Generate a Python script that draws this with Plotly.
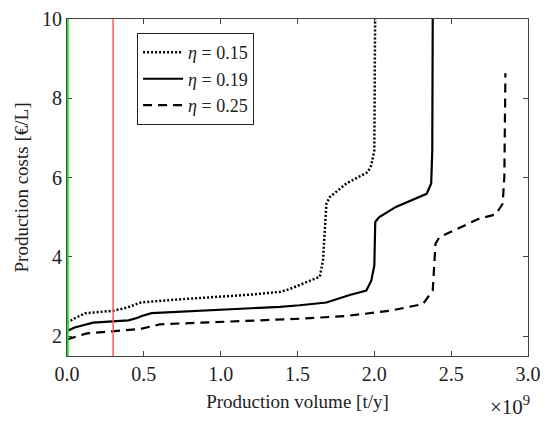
import plotly.graph_objects as go

# production volume in 1e9 t/y, production costs in EUR/L
volume_015 = [0.0, 0.05, 0.12, 0.30, 0.39, 0.48, 0.70, 1.00, 1.20, 1.39, 1.45, 1.52,
              1.645, 1.666, 1.688, 1.71, 1.818, 1.958, 1.98, 2.0, 2.005]
cost_015 = [2.34, 2.45, 2.58, 2.64, 2.72, 2.85, 2.92, 3.00, 3.05, 3.12, 3.19, 3.30,
            3.50, 3.91, 5.34, 5.51, 5.85, 6.14, 6.31, 6.69, 10.0]

volume_019 = [0.0, 0.05, 0.17, 0.29, 0.40, 0.455, 0.487, 0.55, 1.00, 1.385, 1.515,
              1.688, 1.84, 1.948, 1.98, 2.0, 2.006, 2.03, 2.14, 2.34, 2.37, 2.377, 2.38]
cost_019 = [2.13, 2.22, 2.34, 2.37, 2.40, 2.46, 2.51, 2.58, 2.66, 2.74, 2.78,
            2.85, 3.04, 3.15, 3.40, 3.78, 4.88, 5.00, 5.26, 5.59, 5.85, 6.69, 10.0]

volume_025 = [0.0, 0.13, 0.29, 0.476, 0.606, 1.00, 1.385, 1.515, 1.818, 2.10, 2.316,
              2.38, 2.398, 2.424, 2.68, 2.79, 2.835, 2.846, 2.853]
cost_025 = [1.92, 2.07, 2.12, 2.18, 2.30, 2.36, 2.42, 2.44, 2.51, 2.64, 2.81,
            3.15, 4.33, 4.50, 4.96, 5.07, 5.34, 6.02, 8.63]

x_ticks = [0.0, 0.5, 1.0, 1.5, 2.0, 2.5, 3.0]
y_ticks = [2, 4, 6, 8, 10]
green_x = 0.0
red_x = 0.3

font = "Liberation Serif"

fig = go.Figure()
fig.add_trace(go.Scatter(x=volume_015, y=cost_015, mode="lines", name="<i>η</i> = 0.15",
                         line=dict(color="black", width=2.5, dash="2px,2px")))
fig.add_trace(go.Scatter(x=volume_019, y=cost_019, mode="lines", name="<i>η</i> = 0.19",
                         line=dict(color="black", width=2.2)))
fig.add_trace(go.Scatter(x=volume_025, y=cost_025, mode="lines", name="<i>η</i> = 0.25",
                         line=dict(color="black", width=2.2, dash="9px,6px")))

# green line sits on the left axis, drawn wide so the visible half shows over it
fig.add_vline(x=green_x, line=dict(color="#22dd22", width=3.5), layer="above")
fig.add_vline(x=red_x, line=dict(color="#ff5a5a", width=1.5), layer="above")

axis_common = dict(showgrid=False, zeroline=False, showline=True, linecolor="#444",
                   linewidth=1, mirror="ticks", ticks="inside", ticklen=5,
                   tickcolor="#444", automargin=False,
                   tickfont=dict(family=font, size=20, color="#222"))

fig.update_xaxes(range=[0, 3.0], tickvals=x_ticks, tickformat=".1f",
                 title=dict(text="Production volume [t/y]",
                            font=dict(family=font, size=19, color="#222"), standoff=10),
                 **axis_common)
fig.update_yaxes(range=[1.5, 10], tickvals=y_ticks,
                 title=dict(text="Production costs [€/L]",
                            font=dict(family=font, size=19, color="#222"), standoff=8),
                 **axis_common)

fig.add_annotation(text="×10<sup>9</sup>", xref="paper", yref="paper", x=1.008, y=-0.148,
                   xanchor="right", yanchor="middle", showarrow=False,
                   font=dict(family=font, size=21, color="#222"))

# the page body adds an 8px offset, so the figure is 8px smaller each way
fig.update_layout(
    width=542, height=418,
    margin=dict(l=59, r=22, t=11, b=70),
    plot_bgcolor="white", paper_bgcolor="white",
    legend=dict(x=0.152, y=0.958, xanchor="left", yanchor="top",
                bordercolor="#222", borderwidth=1, bgcolor="white",
                font=dict(family=font, size=18, color="#222"),
                tracegroupgap=0, itemwidth=40),
)

fig.write_html("out.html")
